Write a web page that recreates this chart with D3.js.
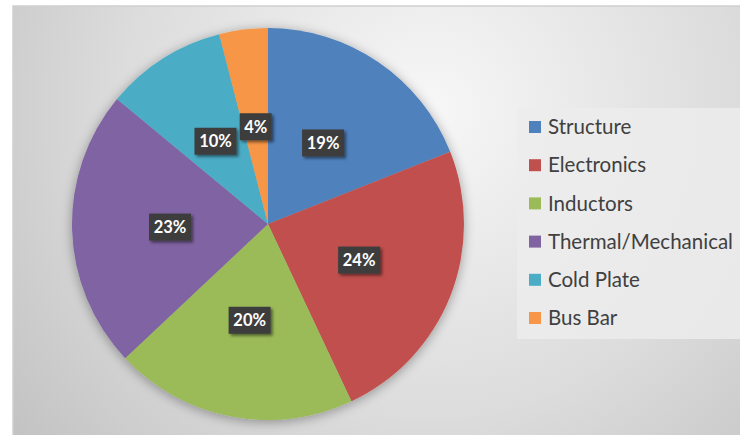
<!DOCTYPE html>
<html><head><meta charset="utf-8">
<script src="https://cdn.jsdelivr.net/npm/d3@7"></script>
<style>html,body{margin:0;padding:0;background:#fff;}svg{display:block;}</style>
</head><body>
<svg id="chart" width="740" height="435"></svg>
<script>
const categories = ["Structure","Electronics","Inductors","Thermal/Mechanical","Cold Plate","Bus Bar"];
const values = [19, 24, 20, 23, 10, 4];
const colors = ["#4F81BD","#C0504D","#9BBB59","#8064A2","#4BACC6","#F79646"];

const svg = d3.select("#chart");
const defs = svg.append("defs");
const rg = defs.append("radialGradient").attr("id","bg")
  .attr("gradientUnits","userSpaceOnUse").attr("cx",430).attr("cy",110).attr("r",560);
rg.append("stop").attr("offset","0").attr("stop-color","#f7f7f7");
rg.append("stop").attr("offset","0.55").attr("stop-color","#dcdcdc");
rg.append("stop").attr("offset","1").attr("stop-color","#bfbfbf");

const sh = defs.append("filter").attr("id","glow").attr("x","-20%").attr("y","-20%").attr("width","140%").attr("height","140%");
sh.append("feGaussianBlur").attr("in","SourceAlpha").attr("stdDeviation",6).attr("result","b");
sh.append("feOffset").attr("in","b").attr("dx",0).attr("dy",2).attr("result","o");
sh.append("feComponentTransfer").attr("in","o").attr("result","o2").append("feFuncA").attr("type","linear").attr("slope",0.35);
const m = sh.append("feMerge"); m.append("feMergeNode").attr("in","o2"); m.append("feMergeNode").attr("in","SourceGraphic");

const ls = defs.append("filter").attr("id","lshadow").attr("x","-30%").attr("y","-30%").attr("width","160%").attr("height","160%");
ls.append("feGaussianBlur").attr("in","SourceAlpha").attr("stdDeviation",1.5).attr("result","b");
ls.append("feOffset").attr("in","b").attr("dx",2).attr("dy",2).attr("result","o");
ls.append("feComponentTransfer").attr("in","o").attr("result","o2").append("feFuncA").attr("type","linear").attr("slope",0.5);
const m2 = ls.append("feMerge"); m2.append("feMergeNode").attr("in","o2"); m2.append("feMergeNode").attr("in","SourceGraphic");

// frame
svg.append("rect").attr("x",13).attr("y",6).attr("width",740).attr("height",440)
  .attr("fill","url(#bg)").attr("stroke","#cfcfcf").attr("stroke-width",1.5);

const cx = 268, cy = 224, R = 196;
const pie = d3.pie().sort(null).value(d => d)(values);
const arc = d3.arc().innerRadius(0).outerRadius(R);
const labelArc = d3.arc().innerRadius(R*0.5).outerRadius(R*0.5);

const g = svg.append("g").attr("transform",`translate(${cx},${cy})`);
g.append("g").attr("filter","url(#glow)").selectAll("path").data(pie).join("path")
  .attr("d",arc).attr("fill",(d,i)=>colors[i]);

const lab = g.selectAll("g.lab").data(pie).join("g").attr("class","lab")
  .attr("transform",d=>`translate(${labelArc.centroid(d)})`);
lab.append("rect")
  .attr("x",d=> d.data>=10 ? -21 : -16).attr("y",-13.5)
  .attr("width",d=> d.data>=10 ? 42 : 32).attr("height",27)
  .attr("fill","#3d3d3d").attr("filter","url(#lshadow)");
lab.append("text").attr("text-anchor","middle").attr("dy","0.36em")
  .attr("font-family","Lato, sans-serif").attr("font-weight","bold").attr("font-size",16.5)
  .attr("fill","#ffffff").text(d=>d.data+"%");

// legend
const lg = svg.append("g");
lg.append("rect").attr("x",517).attr("y",108).attr("width",240).attr("height",231)
  .attr("fill","#ececec").attr("opacity",0.85);
const ly = d3.scalePoint().domain(categories).range([127,318]);
const items = lg.selectAll("g.it").data(categories).join("g").attr("class","it")
  .attr("transform",d=>`translate(0,${ly(d)})`);
items.append("rect").attr("x",529).attr("y",-6).attr("width",12).attr("height",12)
  .attr("fill",(d,i)=>colors[i]);
items.append("text").attr("x",548).attr("dy","0.35em")
  .attr("font-family","Lato, sans-serif").attr("font-size",20.5).attr("fill","#404040")
  .text(d=>d);
</script>
</body></html>
